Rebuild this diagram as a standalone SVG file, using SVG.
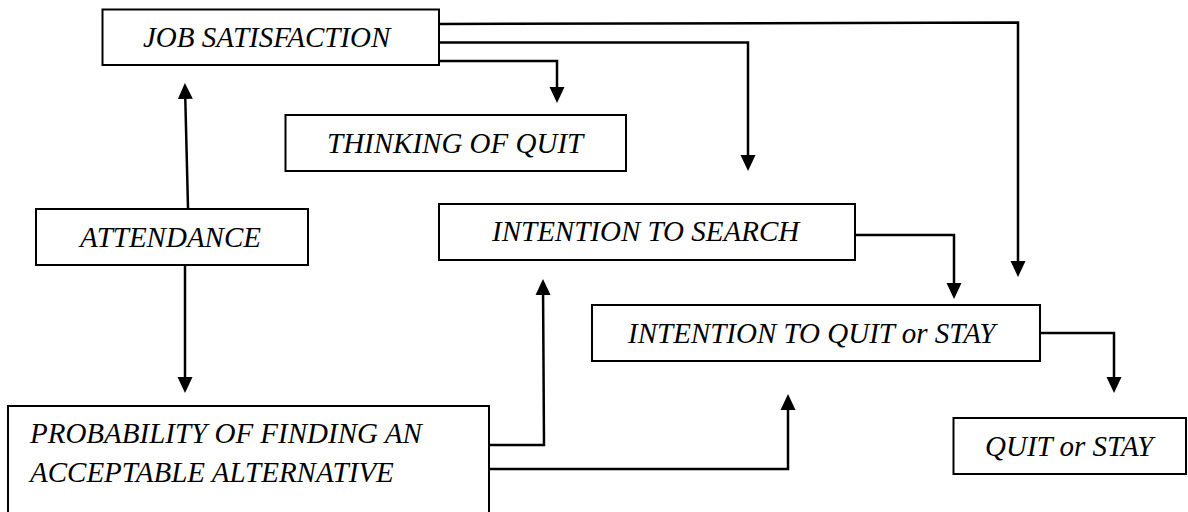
<svg xmlns="http://www.w3.org/2000/svg" width="1188" height="512" viewBox="0 0 1188 512">
<style>
.box{fill:#fff;stroke:#000;stroke-width:2}
.lbl{font-family:"Liberation Serif","Times New Roman",serif;font-style:italic;font-size:29px;fill:#000}
.con{fill:none;stroke:#000;stroke-width:2.5}
</style>
<defs>
<marker id="ah" markerUnits="userSpaceOnUse" markerWidth="16" markerHeight="16" refX="12" refY="7.5" orient="auto" viewBox="0 0 16 15">
<path d="M0,0 L16,7.5 L0,15 z" fill="#000"/>
</marker>
</defs>
<rect width="1188" height="512" fill="#fff"/>
<g id="connectors">
<path class="con" d="M439,24 L1018,22.5 L1018,273" marker-end="url(#ah)"/>
<path class="con" d="M439,42.5 L748,42.5 L748,167" marker-end="url(#ah)"/>
<path class="con" d="M439,61 L557,61 L557,99" marker-end="url(#ah)"/>
<path class="con" d="M188,208 L185,87" marker-end="url(#ah)"/>
<path class="con" d="M185,265 L185,389" marker-end="url(#ah)"/>
<path class="con" d="M489,445 L544,445 L543,283" marker-end="url(#ah)"/>
<path class="con" d="M489,469 L788,469 L788,398" marker-end="url(#ah)"/>
<path class="con" d="M855,235 L954,235 L954,295" marker-end="url(#ah)"/>
<path class="con" d="M1040,333 L1114,333 L1114,389" marker-end="url(#ah)"/>
</g>
<g id="job-satisfaction">
<rect class="box" x="102.5" y="9.5" width="336.5" height="55.5"/>
<text class="lbl" x="143" y="46.5">JOB SATISFACTION</text>
</g>
<g id="thinking-of-quit">
<rect class="box" x="285.5" y="115" width="340.5" height="56"/>
<text class="lbl" x="327" y="152.5">THINKING OF QUIT</text>
</g>
<g id="attendance">
<rect class="box" x="36" y="209" width="272" height="56"/>
<text class="lbl" x="80" y="246.5">ATTENDANCE</text>
</g>
<g id="intention-to-search">
<rect class="box" x="439" y="204" width="416" height="56"/>
<text class="lbl" x="492" y="241">INTENTION TO SEARCH</text>
</g>
<g id="intention-to-quit-or-stay">
<rect class="box" x="592" y="305" width="448" height="56"/>
<text class="lbl" x="628" y="342.5">INTENTION TO QUIT or STAY</text>
</g>
<g id="probability">
<rect class="box" x="8" y="406" width="481" height="120"/>
<text class="lbl" x="30" y="443">PROBABILITY OF FINDING AN</text>
<text class="lbl" x="30" y="482">ACCEPTABLE ALTERNATIVE</text>
</g>
<g id="quit-or-stay">
<rect class="box" x="953.5" y="418" width="232.5" height="56"/>
<text class="lbl" x="985" y="455.5">QUIT or STAY</text>
</g>
</svg>
